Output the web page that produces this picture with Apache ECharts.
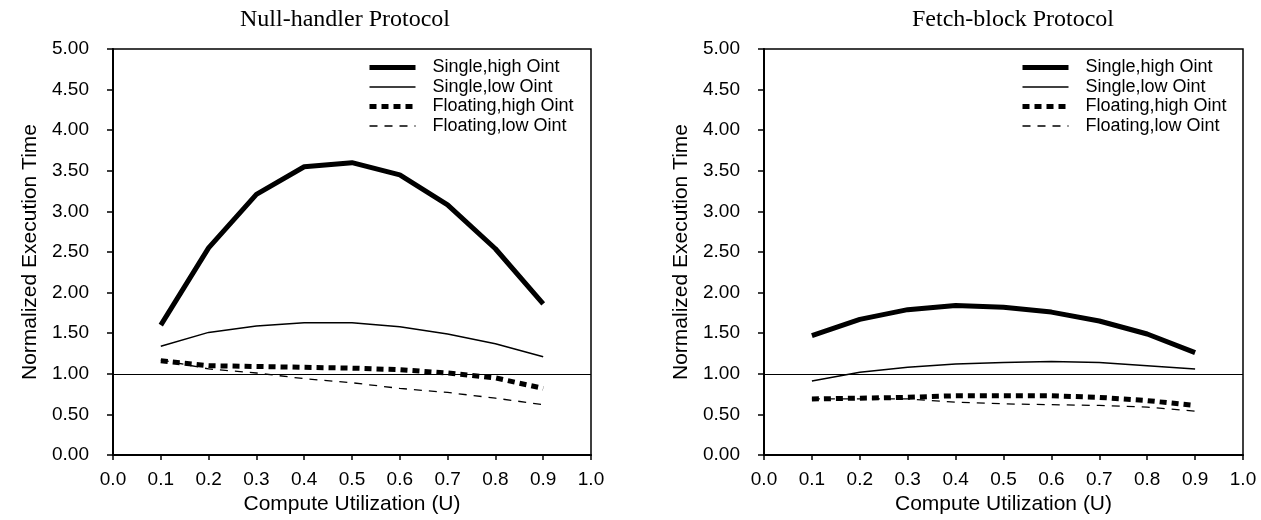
<!DOCTYPE html>
<html>
<head>
<meta charset="utf-8">
<script src="https://cdn.jsdelivr.net/npm/echarts@6/dist/echarts.min.js"></script>
<style>
html,body{margin:0;padding:0;background:#fff;}
#chart{width:1261px;height:520px;}
</style>
</head>
<body>
<div id="chart"></div>
<script>
// ---- data ----
const utilization = [0.1, 0.2, 0.3, 0.4, 0.5, 0.6, 0.7, 0.8, 0.9];
const seriesNames = ['Single,high Oint', 'Single,low Oint', 'Floating,high Oint', 'Floating,low Oint'];
const panelTitles = ['Null-handler Protocol', 'Fetch-block Protocol'];
// Null-handler protocol
const nullSingleHigh   = [1.60, 2.55, 3.21, 3.55, 3.60, 3.45, 3.08, 2.54, 1.86];
const nullSingleLow    = [1.34, 1.51, 1.59, 1.63, 1.63, 1.58, 1.49, 1.37, 1.21];
const nullFloatingHigh = [1.16, 1.10, 1.09, 1.08, 1.07, 1.05, 1.01, 0.95, 0.82];
const nullFloatingLow  = [1.17, 1.06, 1.01, 0.94, 0.89, 0.82, 0.77, 0.70, 0.62];
// Fetch-block protocol
const fetchSingleHigh   = [1.47, 1.67, 1.79, 1.84, 1.82, 1.76, 1.65, 1.49, 1.26];
const fetchSingleLow    = [0.91, 1.02, 1.08, 1.12, 1.14, 1.15, 1.14, 1.10, 1.06];
const fetchFloatingHigh = [0.69, 0.70, 0.71, 0.73, 0.73, 0.73, 0.71, 0.67, 0.61];
const fetchFloatingLow  = [0.69, 0.69, 0.69, 0.65, 0.63, 0.62, 0.61, 0.59, 0.54];
const referenceLevel = 1.0;

// ---- styles ----
const SANS = 'Liberation Sans';
const SERIF = 'Liberation Serif';
const styles = [
  {width: 5,   type: 'solid'},
  {width: 1.5, type: 'solid'},
  {width: 5,   type: [7, 5]},
  {width: 1.3, type: [8, 7]}
];

const pair = vals => utilization.map((u, i) => [u, vals[i]]);
const panels = [
  [nullSingleHigh, nullSingleLow, nullFloatingHigh, nullFloatingLow],
  [fetchSingleHigh, fetchSingleLow, fetchFloatingHigh, fetchFloatingLow]
];

const grids = [
  {left: 113, top: 49, width: 478, height: 410},
  {left: 764, top: 49, width: 479, height: 410}
];

const series = [];
panels.forEach((vals, gi) => {
  vals.forEach((v, si) => {
    const s = {
      name: seriesNames[si],
      type: 'line',
      xAxisIndex: gi, yAxisIndex: gi,
      data: pair(v),
      symbol: 'none',
      showSymbol: false,
      lineStyle: {color: '#000', width: styles[si].width, type: styles[si].type, cap: 'butt', join: 'round'},
      itemStyle: {color: '#000'},
      silent: true,
      z: 3
    };
    if (si === 0) {
      s.markLine = {
        silent: true,
        symbol: ['none', 'none'],
        label: {show: false},
        lineStyle: {color: '#000', width: 1, type: 'solid'},
        data: [{yAxis: referenceLevel}]
      };
    }
    series.push(s);
  });
});

const xAxes = grids.map((g, i) => ({
  type: 'value', gridIndex: i, min: 0, max: 1, interval: 0.1,
  name: 'Compute Utilization (U)', nameLocation: 'middle', nameGap: 39,
  nameTextStyle: {fontFamily: SANS, fontSize: 21, color: '#000'},
  axisLine: {show: true, lineStyle: {color: '#000', width: 2}},
  axisTick: {show: true, inside: false, length: 5, lineStyle: {color: '#000', width: 1.5}},
  axisLabel: {fontFamily: SANS, fontSize: 19, color: '#000', margin: 15, formatter: v => v.toFixed(1)},
  splitLine: {show: false}
}));
const yAxes = grids.map((g, i) => ({
  type: 'value', gridIndex: i, min: 0, max: 5, interval: 0.5,
  name: 'Normalized Execution Time', nameLocation: 'middle', nameGap: 72,
  nameTextStyle: {fontFamily: SANS, fontSize: 21, color: '#000'},
  axisLine: {show: true, lineStyle: {color: '#000', width: 2}},
  axisTick: {show: true, inside: false, length: 6, lineStyle: {color: '#000', width: 1.5}},
  axisLabel: {fontFamily: SANS, fontSize: 19, color: '#000', margin: 24, formatter: v => v.toFixed(2)},
  splitLine: {show: false}
}));

const legendItems = seriesNames.map((n, si) => ({
  name: n,
  lineStyle: {width: styles[si].width, type: styles[si].type, color: '#000'}
}));
const legends = [{left: 367}, {left: 1020}].map(p => ({
  left: p.left, top: 58, orient: 'vertical', padding: 0,
  itemWidth: 46, itemHeight: 14, itemGap: 0.5,
  selectedMode: false,
  data: legendItems,
  itemStyle: {opacity: 0},
  lineStyle: {width: 'inherit', type: 'inherit', color: 'inherit'},
  textStyle: {fontFamily: SANS, fontSize: 18, color: '#000', lineHeight: 19, padding: [0, 0, 0, 12]}
}));

const chart = echarts.init(document.getElementById('chart'), null, {renderer: 'canvas'});
chart.setOption({
  animation: false,
  backgroundColor: '#fff',
  title: [
    {text: panelTitles[0], left: 340, top: 3, textAlign: 'center',
     textStyle: {fontFamily: SERIF, fontSize: 24, fontWeight: 'normal', color: '#000'}},
    {text: panelTitles[1], left: 1008, top: 3, textAlign: 'center',
     textStyle: {fontFamily: SERIF, fontSize: 24, fontWeight: 'normal', color: '#000'}}
  ],
  legend: legends,
  grid: grids.map(g => Object.assign({show: true, borderColor: '#000', borderWidth: 1.5, backgroundColor: 'transparent'}, g)),
  xAxis: xAxes,
  yAxis: yAxes,
  series: series
});
</script>
</body>
</html>
